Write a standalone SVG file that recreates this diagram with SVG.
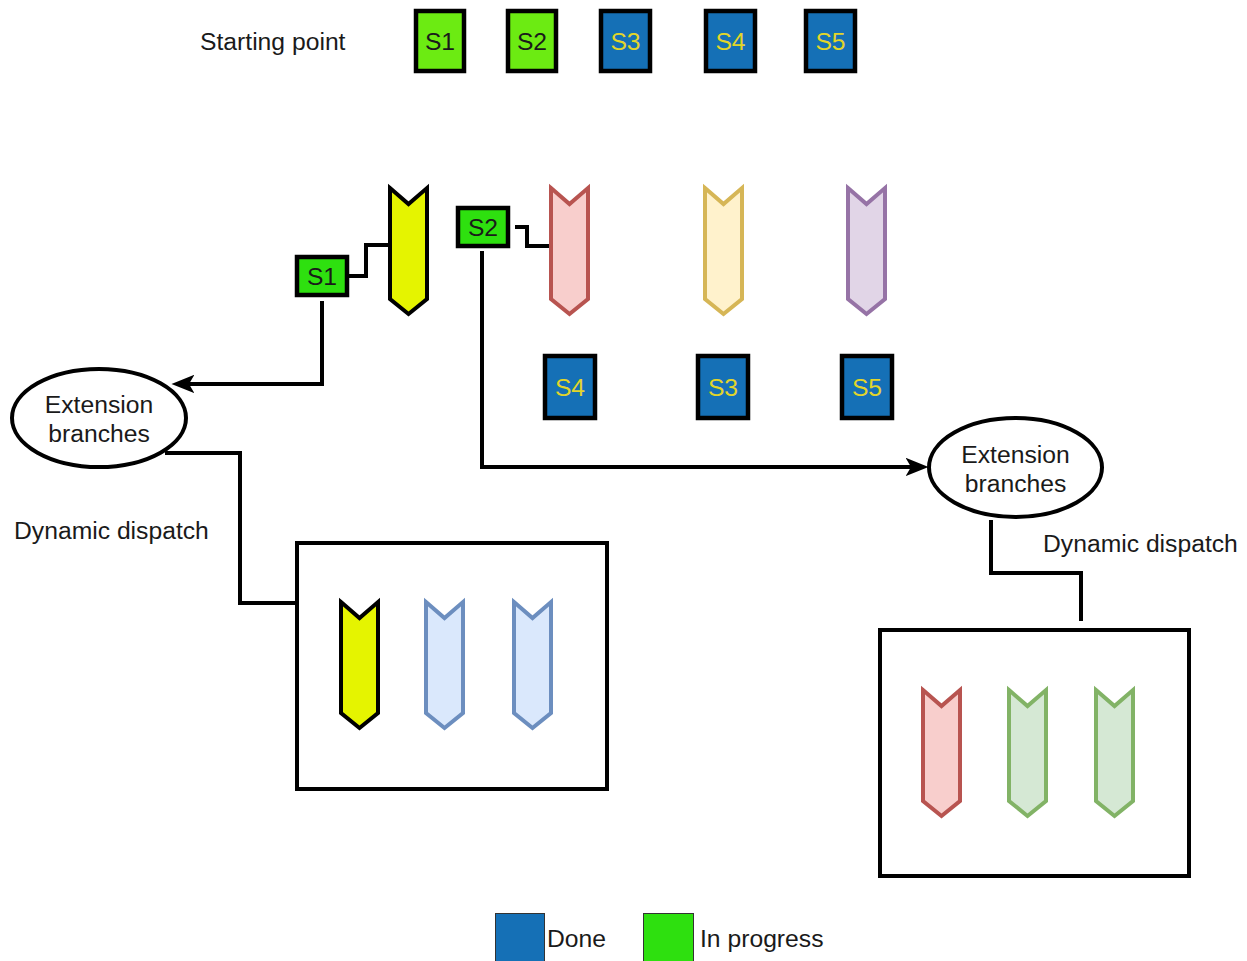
<svg xmlns="http://www.w3.org/2000/svg" width="1247" height="961" viewBox="0 0 1247 961">
<style>
text{font-family:"Liberation Sans",Arial,sans-serif;font-size:24.7px;fill:#1a1a1a}
.c{text-anchor:middle}
.box{stroke:#000;stroke-width:4.5}
.lime{fill:#6CEB12}
.green{fill:#2EE00F}
.blue{fill:#1570B6}
.yt{fill:#E2D52A}
.chev{stroke-width:4;stroke-linejoin:miter}
.conn{fill:none;stroke:#000;stroke-width:4}
.ell{fill:#fff;stroke:#000;stroke-width:4}
.frame{fill:#fff;stroke:#000;stroke-width:4}
</style>
<defs>
<path id="chev" d="M0,0 L18.5,16 L37,0 L37,111 L18.5,126 L0,111 Z"/>
<marker id="arr" markerUnits="userSpaceOnUse" markerWidth="23" markerHeight="19" viewBox="0 0 21 17" refX="5" refY="8.5" orient="auto">
<path d="M0,0 L21,8.5 L0,17 L5,8.5 Z" fill="#000"/>
</marker>
</defs>
<rect width="1247" height="961" fill="#fff"/>
<text x="200" y="50">Starting point</text>
<g id="top-s1"><rect class="box lime" x="416" y="11" width="48" height="60"/><text class="c" x="440" y="50">S1</text></g>
<g id="top-s2"><rect class="box lime" x="508" y="11" width="48" height="60"/><text class="c" x="532" y="50">S2</text></g>
<g id="top-s3"><rect class="box blue" x="601" y="11" width="49" height="60"/><text class="c yt" x="625.5" y="50">S3</text></g>
<g id="top-s4"><rect class="box blue" x="706" y="11" width="49" height="60"/><text class="c yt" x="730.5" y="50">S4</text></g>
<g id="top-s5"><rect class="box blue" x="806" y="11" width="49" height="60"/><text class="c yt" x="830.5" y="50">S5</text></g>
<g id="connectors">
<path class="conn" d="M349,276 H366 V245 H390"/>
<path class="conn" d="M515,227 H527 V246 H551"/>
<path class="conn" d="M322,301 V384 H189" marker-end="url(#arr)"/>
<path class="conn" d="M482,251 V467 H911" marker-end="url(#arr)"/>
<path class="conn" d="M165,453 H240 V603 H297"/>
<path class="conn" d="M991,520 V573 H1081 V621"/>
</g>
<g id="branch-yellow"><use href="#chev" class="chev" x="390" y="188" fill="#E5F400" stroke="#000"/></g>
<g id="branch-red"><use href="#chev" class="chev" x="551" y="188" fill="#F8CECC" stroke="#B85450"/></g>
<g id="branch-lightyellow"><use href="#chev" class="chev" x="705" y="188" fill="#FFF2CC" stroke="#D6B656"/></g>
<g id="branch-purple"><use href="#chev" class="chev" x="848" y="188" fill="#E1D5E7" stroke="#9673A6"/></g>
<g id="mid-s1"><rect class="box green" x="297" y="257" width="50" height="38"/><text class="c" x="322" y="285">S1</text></g>
<g id="mid-s2"><rect class="box green" x="458" y="208" width="50" height="38"/><text class="c" x="483" y="236">S2</text></g>
<g id="low-s4"><rect class="box blue" x="545" y="356" width="50" height="62"/><text class="c yt" x="570" y="396">S4</text></g>
<g id="low-s3"><rect class="box blue" x="698" y="356" width="50" height="62"/><text class="c yt" x="723" y="396">S3</text></g>
<g id="low-s5"><rect class="box blue" x="842" y="356" width="50" height="62"/><text class="c yt" x="867" y="396">S5</text></g>
<g id="ext-left"><ellipse class="ell" cx="99" cy="418" rx="87" ry="49"/><text class="c" x="99" y="413">Extension</text><text class="c" x="99" y="442">branches</text></g>
<g id="ext-right"><ellipse class="ell" cx="1015.5" cy="467.5" rx="86.5" ry="49.5"/><text class="c" x="1015.5" y="463">Extension</text><text class="c" x="1015.5" y="492">branches</text></g>
<text x="14" y="539">Dynamic dispatch</text>
<text x="1043" y="552">Dynamic dispatch</text>
<g id="dispatch-left">
<rect class="frame" x="297" y="543" width="310" height="246"/>
<use href="#chev" class="chev" x="341" y="602" fill="#E5F400" stroke="#000"/>
<use href="#chev" class="chev" x="426" y="602" fill="#DAE8FC" stroke="#6C8EBF"/>
<use href="#chev" class="chev" x="514" y="602" fill="#DAE8FC" stroke="#6C8EBF"/>
</g>
<g id="dispatch-right">
<rect class="frame" x="880" y="630" width="309" height="246"/>
<use href="#chev" class="chev" x="923" y="690" fill="#F8CECC" stroke="#B85450"/>
<use href="#chev" class="chev" x="1009" y="690" fill="#D5E8D4" stroke="#82B366"/>
<use href="#chev" class="chev" x="1096" y="690" fill="#D5E8D4" stroke="#82B366"/>
</g>
<g id="legend-done"><rect x="495.5" y="913.5" width="49" height="50" fill="#1570B6" stroke="#333" stroke-width="1"/><text x="547" y="947">Done</text></g>
<g id="legend-progress"><rect x="643.5" y="913.5" width="50" height="50" fill="#2EE00F" stroke="#333" stroke-width="1"/><text x="700" y="947">In progress</text></g>
</svg>
